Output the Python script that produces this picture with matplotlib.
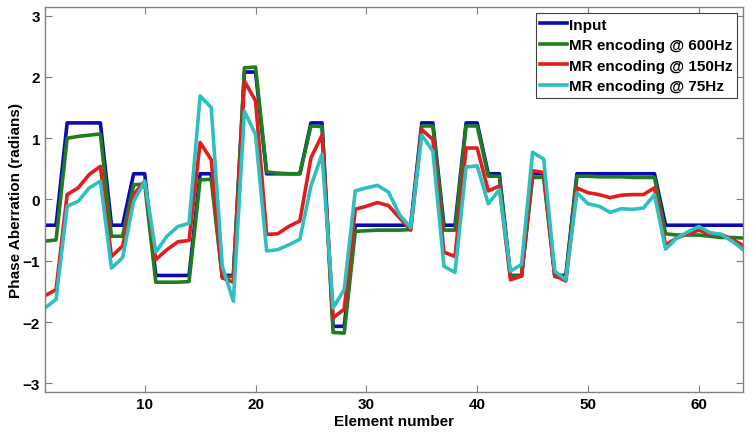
import numpy as np
import matplotlib
matplotlib.use('Agg')
from matplotlib import pyplot as plt

plt.rcParams['font.family'] = ['Liberation Sans', 'DejaVu Sans']
plt.rcParams['font.weight'] = 'bold'

element = np.arange(1, 65)

# input phase aberration (piecewise constant)
inp = [-0.42, -0.42, 1.25, 1.25, 1.25, 1.25, -0.42, -0.42, 0.42, 0.42,
       -1.24, -1.24, -1.24, -1.24, 0.42, 0.42, -1.24, -1.24, 2.08, 2.08,
       0.42, 0.42, 0.42, 0.42, 1.25, 1.25, -2.07, -2.07, -0.42, -0.42,
       -0.42, -0.42, -0.42, -0.42, 1.25, 1.25, -0.42, -0.42, 1.25, 1.25,
       0.42, 0.42, -1.24, -1.24, 0.42, 0.42, -1.24, -1.24, 0.42, 0.42,
       0.42, 0.42, 0.42, 0.42, 0.42, 0.42, -0.42, -0.42, -0.42, -0.42,
       -0.42, -0.42, -0.42, -0.42]

mr600 = [-0.68, -0.66, 1.00, 1.03, 1.05, 1.07, -0.60, -0.60, 0.24, 0.25,
         -1.35, -1.35, -1.35, -1.34, 0.32, 0.33, -1.28, -1.25, 2.15, 2.16,
         0.45, 0.43, 0.42, 0.42, 1.20, 1.19, -2.17, -2.18, -0.52, -0.51,
         -0.50, -0.50, -0.50, -0.49, 1.20, 1.20, -0.50, -0.50, 1.20, 1.20,
         0.38, 0.38, -1.25, -1.25, 0.36, 0.36, -1.26, -1.28, 0.38, 0.38,
         0.37, 0.37, 0.37, 0.36, 0.36, 0.36, -0.56, -0.58, -0.58, -0.58,
         -0.60, -0.62, -0.62, -0.63]

mr150 = [-1.57, -1.47, 0.08, 0.19, 0.41, 0.54, -0.93, -0.76, 0.08, 0.30,
         -0.98, -0.82, -0.69, -0.67, 0.93, 0.65, -1.28, -1.35, 1.93, 1.61,
         -0.57, -0.56, -0.44, -0.35, 0.68, 1.05, -1.93, -1.79, -0.16, -0.11,
         -0.05, -0.10, -0.30, -0.50, 1.14, 0.98, -0.86, -0.93, 0.84, 0.84,
         0.14, 0.22, -1.31, -1.25, 0.47, 0.44, -1.24, -1.33, 0.19, 0.11,
         0.08, 0.03, 0.07, 0.08, 0.08, 0.19, -0.74, -0.63, -0.56, -0.50,
         -0.57, -0.57, -0.65, -0.75]

mr75 = [-1.77, -1.63, -0.11, -0.03, 0.19, 0.30, -1.12, -0.95, -0.03, 0.30,
        -0.86, -0.60, -0.44, -0.39, 1.69, 1.50, -1.09, -1.66, 1.44, 1.06,
        -0.84, -0.82, -0.74, -0.65, 0.22, 0.74, -1.77, -1.47, 0.14, 0.19,
        0.23, 0.12, -0.25, -0.46, 1.05, 0.79, -1.09, -1.19, 0.53, 0.55,
        -0.07, 0.16, -1.17, -1.06, 0.77, 0.66, -1.17, -1.31, 0.11, -0.07,
        -0.11, -0.21, -0.15, -0.16, -0.14, 0.08, -0.81, -0.63, -0.53, -0.44,
        -0.54, -0.57, -0.68, -0.82]

fig = plt.figure(figsize=(7.56, 4.35), dpi=100)
ax = fig.add_axes([0.0595, 0.0966, 0.9235, 0.885])

ax.plot(element, inp, color='#0A0AB4', linewidth=2.6, label='Input')
ax.plot(element, mr600, color='#1E7D1E', linewidth=2.6, label='MR encoding @ 600Hz')
ax.plot(element, mr150, color='#E01E1E', linewidth=2.6, label='MR encoding @ 150Hz')
ax.plot(element, mr75, color='#2EC0C0', linewidth=2.6, label='MR encoding @ 75Hz')

ax.set_xlim(1, 64)
ax.set_ylim(-np.pi, np.pi)
ax.set_xticks([10, 20, 30, 40, 50, 60])
ax.set_yticks([-3, -2, -1, 0, 1, 2, 3])
ax.tick_params(direction='in', top=True, right=True, length=5, color='#808080',
               labelsize=11)
for s in ax.spines.values():
    s.set_color('#808080')
    s.set_linewidth(1.0)

ax.set_xlabel('Element number', fontsize=11, fontweight='bold', labelpad=2)
ax.set_ylabel('Phase Aberration (radians)', fontsize=11, fontweight='bold')
ax.yaxis.set_label_coords(-0.031, 0.5)

leg = ax.legend(loc='upper right', fontsize=11, fancybox=False, framealpha=1,
                edgecolor='#404040', handlelength=1.75, handletextpad=0.12,
                borderpad=0.3, labelspacing=0.42, borderaxespad=0.4)
leg.get_frame().set_linewidth(0.8)

fig.savefig('out.png', dpi=100)
